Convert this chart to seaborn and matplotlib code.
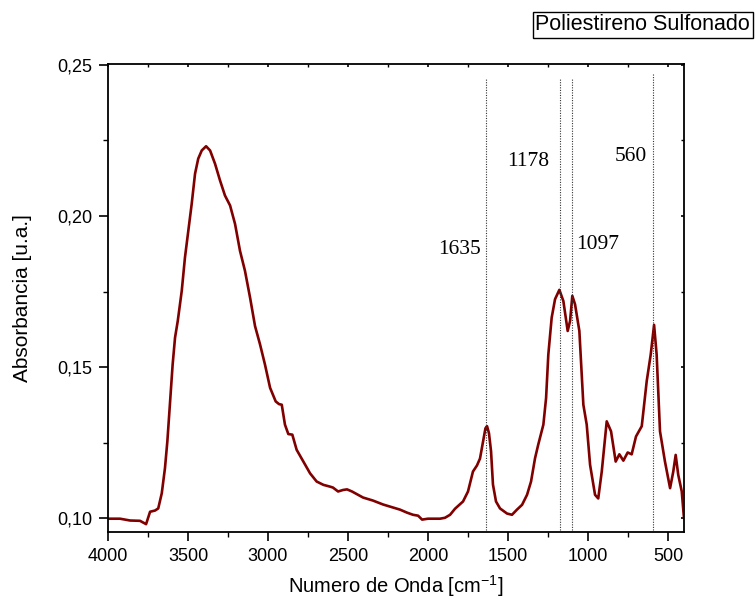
import matplotlib
matplotlib.use("Agg")
import matplotlib.pyplot as plt
import seaborn as sns
import pandas as pd
from matplotlib.ticker import MultipleLocator, FixedLocator

# ---- data ----
wavenumber = [4000, 3925, 3862, 3800, 3762, 3737, 3706, 3686, 3664, 3644, 3629, 3612, 3596,
              3581, 3564, 3539, 3519, 3498, 3477, 3456, 3436, 3414, 3387, 3362, 3331,
              3300, 3269, 3237, 3206, 3175, 3144, 3112, 3081, 3050, 3019, 2987, 2952,
              2931, 2914, 2894, 2873, 2848, 2821, 2779, 2737, 2696, 2654, 2612, 2594,
              2562, 2531, 2506, 2475, 2406, 2344, 2281, 2219, 2175, 2131, 2094, 2062,
              2037, 2000, 1969, 1925, 1894, 1862, 1831, 1781, 1750, 1719, 1694, 1675,
              1656, 1641, 1631, 1619, 1606, 1594, 1575, 1550, 1506, 1475, 1444, 1412,
              1381, 1356, 1331, 1311, 1279, 1262, 1248, 1227, 1206, 1179, 1154, 1127,
              1112, 1098, 1081, 1054, 1029, 1008, 987, 956, 936, 914, 883, 856, 827,
              804, 779, 752, 727, 700, 664, 633, 608, 587, 571, 550, 519, 487, 467,
              452, 436, 414, 400]
absorbance = [0.0999, 0.0999, 0.0993, 0.0992, 0.0981, 0.1022, 0.1026, 0.1033, 0.1083, 0.1166,
              0.1255, 0.1387, 0.1509, 0.1598, 0.1653, 0.1753, 0.1863, 0.1952, 0.2040, 0.2140,
              0.2190, 0.2217, 0.2231, 0.2217, 0.2173, 0.2118, 0.2068, 0.2035, 0.1974, 0.1885,
              0.1819, 0.1730, 0.1636, 0.1576, 0.1509, 0.1432, 0.1387, 0.1378, 0.1376, 0.1310,
              0.1279, 0.1277, 0.1227, 0.1188, 0.1149, 0.1122, 0.1111, 0.1105, 0.1102, 0.1089,
              0.1094, 0.1096, 0.1089, 0.1069, 0.1059, 0.1046, 0.1036, 0.1029, 0.1019, 0.1012,
              0.1009, 0.0996, 0.0999, 0.0999, 0.0999, 0.1002, 0.1012, 0.1032, 0.1056, 0.1089,
              0.1155, 0.1175, 0.1198, 0.1255, 0.1298, 0.1305, 0.1282, 0.1222, 0.1112, 0.1056,
              0.1033, 0.1016, 0.1012, 0.1029, 0.1045, 0.1078, 0.1122, 0.1199, 0.1244, 0.1310,
              0.1398, 0.1542, 0.1664, 0.1725, 0.1756, 0.1719, 0.1620, 0.1653, 0.1736, 0.1708,
              0.1620, 0.1376, 0.1310, 0.1177, 0.1078, 0.1066, 0.1155, 0.1321, 0.1288, 0.1188,
              0.1212, 0.1191, 0.1218, 0.1212, 0.1271, 0.1305, 0.1454, 0.1542, 0.1640, 0.1542,
              0.1288, 0.1188, 0.1100, 0.1155, 0.1210, 0.1144, 0.1089, 0.1000]

peak_positions = [1635, 1178, 1097, 592]
peak_line_tops = [0.2457, 0.2457, 0.2457, 0.2470]
peak_labels = ["1635", "1178", "1097", "560"]
label_x = [1800, 1375, 937, 731]
label_y = [0.1888, 0.2180, 0.1905, 0.2198]

xticks = [4000, 3500, 3000, 2500, 2000, 1500, 1000, 500]
xtick_labels = ["4000", "3500", "3000", "2500", "2000", "1500", "1000", "500"]
yticks = [0.10, 0.15, 0.20, 0.25]
ytick_labels = ["0,10", "0,15", "0,20", "0,25"]

title_text = "Poliestireno Sulfonado"
xlabel = "Numero de Onda [cm$^{-1}$]"
ylabel = "Absorbancia [u.a.]"

# ---- plotting ----
sns.set_style("ticks")
plt.rcParams['font.family'] = ['Liberation Sans', 'DejaVu Sans']
plt.rcParams['mathtext.fontset'] = 'custom'
plt.rcParams['mathtext.rm'] = 'Liberation Sans'
plt.rcParams['text.color'] = 'black'
plt.rcParams['axes.labelcolor'] = 'black'
plt.rcParams['xtick.color'] = 'black'
plt.rcParams['ytick.color'] = 'black'

fig = plt.figure(figsize=(7.56, 6.03), dpi=100)
ax = fig.add_axes([108/756, 1 - 532/603, (684-108)/756, (532-64)/603])

df = pd.DataFrame({"wn": wavenumber, "abs": absorbance})
sns.lineplot(data=df, x="wn", y="abs", ax=ax, color="#800000", linewidth=1.9, sort=False)

for p, top in zip(peak_positions, peak_line_tops):
    ax.plot([p, p], [0.0962, top], color="#333333", linestyle=(0, (1, 1.3)), linewidth=0.8)

for lx, ly, lt in zip(label_x, label_y, peak_labels):
    ax.text(lx, ly, lt, fontsize=15.5, family=['Liberation Serif'], ha='center', va='center',
            color='black')

ax.set_xlim(4000, 400)
ax.set_ylim(0.0955, 0.2503)
ax.xaxis.set_major_locator(FixedLocator(xticks))
ax.set_xticklabels(xtick_labels)
ax.xaxis.set_minor_locator(MultipleLocator(250))
ax.yaxis.set_major_locator(FixedLocator(yticks))
ax.set_yticklabels(ytick_labels)
ax.yaxis.set_minor_locator(MultipleLocator(0.025))

ax.tick_params(axis='both', which='major', direction='out', length=6.5, width=1.2,
               labelsize=13, pad=5)
ax.tick_params(axis='both', which='minor', direction='out', length=3.5, width=1.0)
ax.tick_params(axis='x', which='both', top=True)
ax.tick_params(axis='y', which='both', right=True)
# mirrored ticks on top/right are tiny and point inward
for t in ax.xaxis.get_major_ticks() + ax.xaxis.get_minor_ticks():
    t.tick2line.set_markersize(2.5)
    t.tick2line.set_marker(3)
for t in ax.yaxis.get_major_ticks() + ax.yaxis.get_minor_ticks():
    t.tick2line.set_markersize(2.5)
    t.tick2line.set_marker(0)

for s in ax.spines.values():
    s.set_linewidth(1.3)
    s.set_color('black')

ax.set_xlabel(xlabel, fontsize=14.5, labelpad=6)
ax.set_ylabel(ylabel, fontsize=15, labelpad=18)

fig.text(750/756, 1 - 25/603, title_text, fontsize=15.5, ha='right', va='center',
         bbox=dict(boxstyle='square,pad=0.12', facecolor='white', edgecolor='black', linewidth=1.0))

fig.savefig("out.png", dpi=100)
